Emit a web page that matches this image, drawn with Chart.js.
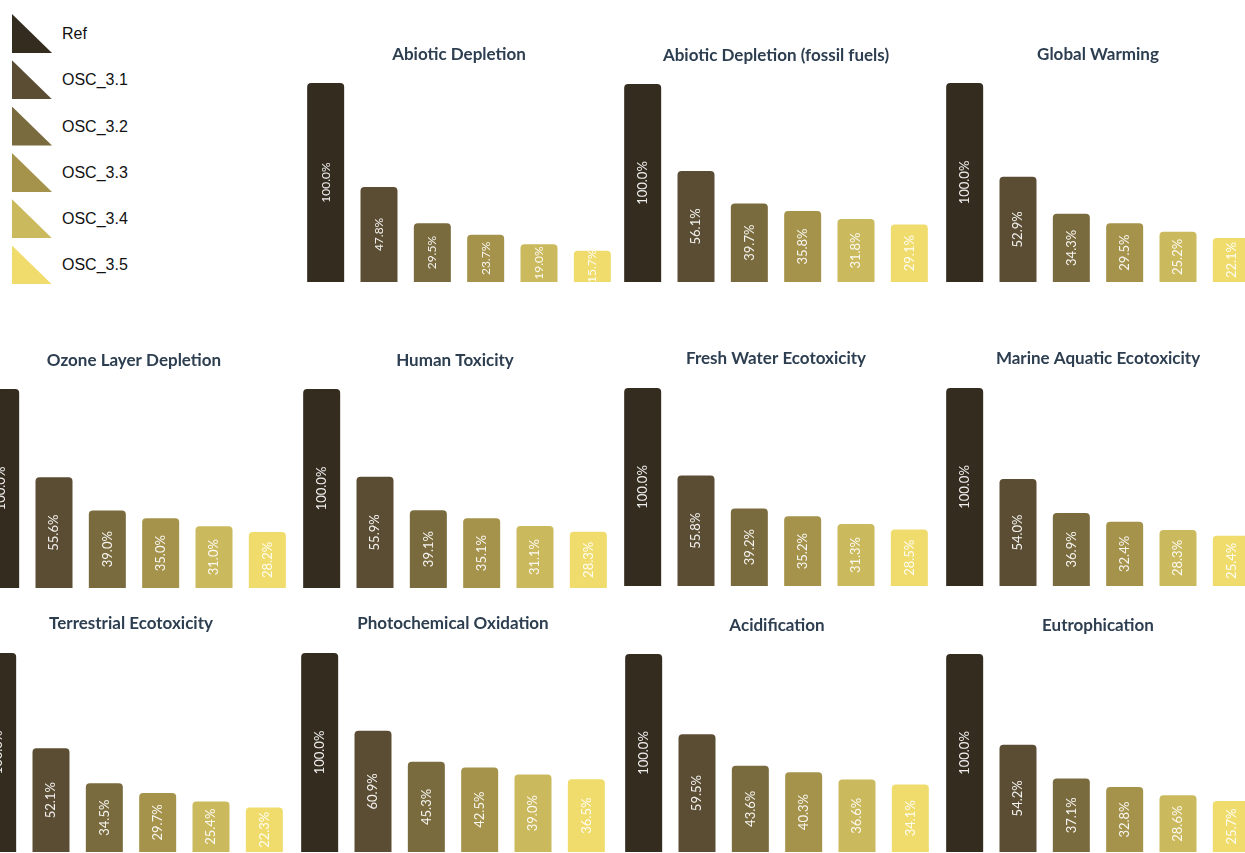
<!DOCTYPE html>
<html>
<head>
<meta charset="utf-8">
<script src="https://cdn.jsdelivr.net/npm/chart.js@4/dist/chart.umd.min.js"></script>
<style>
  html, body { margin:0; padding:0; background:#fff; }
  body { width:1245px; height:853px; position:relative; overflow:hidden; }
  canvas.panel { position:absolute; }
  #legend { position:absolute; left:12px; top:14px; font-family:"Liberation Sans", Arial, sans-serif; font-size:16px; color:#111; }
  .lg-row { position:relative; height:46.3px; }
  .lg-tri { position:absolute; left:0; top:0; width:40px; height:39px; clip-path:polygon(0 0, 0 100%, 100% 100%); }
  .lg-txt { position:absolute; left:50px; top:10px; line-height:20px; }
</style>
</head>
<body>
<div id="legend"></div>
<script>
// ---- data ----
const categories = ['Ref', 'OSC_3.1', 'OSC_3.2', 'OSC_3.3', 'OSC_3.4', 'OSC_3.5'];
const seriesColors = ['#352c20', '#5b4d33', '#7a6b3e', '#a5924b', '#cbb95d', '#f0dc6c'];

const abioticDepletion        = [100.0, 47.8, 29.5, 23.7, 19.0, 15.7];
const abioticDepletionFossil  = [100.0, 56.1, 39.7, 35.8, 31.8, 29.1];
const globalWarming           = [100.0, 52.9, 34.3, 29.5, 25.2, 22.1];
const ozoneLayerDepletion     = [100.0, 55.6, 39.0, 35.0, 31.0, 28.2];
const humanToxicity           = [100.0, 55.9, 39.1, 35.1, 31.1, 28.3];
const freshWaterEcotoxicity   = [100.0, 55.8, 39.2, 35.2, 31.3, 28.5];
const marineAquaticEcotoxicity= [100.0, 54.0, 36.9, 32.4, 28.3, 25.4];
const terrestrialEcotoxicity  = [100.0, 52.1, 34.5, 29.7, 25.4, 22.3];
const photochemicalOxidation  = [100.0, 60.9, 45.3, 42.5, 39.0, 36.5];
const acidification           = [100.0, 59.5, 43.6, 40.3, 36.6, 34.1];
const eutrophication          = [100.0, 54.2, 37.1, 32.8, 28.6, 25.7];

// ---- layout (positions only) ----
const panels = [
  { title:'Abiotic Depletion',              data:abioticDepletion,         left:298.9, titleY:55,  top:83,  bottom:282, label:12 },
  { title:'Abiotic Depletion (fossil fuels)', data:abioticDepletionFossil, left:615.9, titleY:56,  top:84,  bottom:282, label:13 },
  { title:'Global Warming',                 data:globalWarming,            left:937.9, titleY:55,  top:83,  bottom:282, label:13 },
  { title:'Ozone Layer Depletion',          data:ozoneLayerDepletion,      left:-26.5, titleY:361, top:389, bottom:588, label:13 },
  { title:'Human Toxicity',                 data:humanToxicity,            left:294.9, titleY:361, top:389, bottom:588, label:13 },
  { title:'Fresh Water Ecotoxicity',        data:freshWaterEcotoxicity,    left:615.9, titleY:359, top:388, bottom:586, label:13 },
  { title:'Marine Aquatic Ecotoxicity',     data:marineAquaticEcotoxicity, left:937.9, titleY:359, top:388, bottom:586, label:13 },
  { title:'Terrestrial Ecotoxicity',        data:terrestrialEcotoxicity,   left:-29.4, titleY:624, top:653, bottom:852, label:13 },
  { title:'Photochemical Oxidation',        data:photochemicalOxidation,   left:292.9, titleY:624, top:653, bottom:852, label:13 },
  { title:'Acidification',                  data:acidification,            left:616.9, titleY:626, top:654, bottom:852, label:13 },
  { title:'Eutrophication',                 data:eutrophication,           left:937.9, titleY:626, top:654, bottom:852, label:13 }
];

// ---- legend ----
const legendEl = document.getElementById('legend');
categories.forEach((c, i) => {
  const row = document.createElement('div'); row.className = 'lg-row';
  const tri = document.createElement('div'); tri.className = 'lg-tri'; tri.style.background = seriesColors[i];
  const txt = document.createElement('div'); txt.className = 'lg-txt'; txt.textContent = c;
  row.appendChild(tri); row.appendChild(txt); legendEl.appendChild(row);
});

// ---- in-bar rotated labels ----
const barLabels = {
  id: 'barLabels',
  afterDatasetsDraw(chart, args, opts) {
    const ctx = chart.ctx;
    const meta = chart.getDatasetMeta(0);
    const vals = chart.data.datasets[0].data;
    ctx.save();
    ctx.fillStyle = 'rgba(255,255,255,0.92)';
    ctx.font = (opts.size || 13) + 'px Lato, "Open Sans", sans-serif';
    ctx.textAlign = 'center';
    ctx.textBaseline = 'middle';
    meta.data.forEach((bar, i) => {
      const p = bar.getProps(['x', 'y', 'base'], true);
      const cy = (p.y + p.base) / 2;
      ctx.save();
      ctx.translate(p.x, cy);
      ctx.rotate(-Math.PI / 2);
      ctx.fillText(vals[i].toFixed(1) + '%', 0, 0);
      ctx.restore();
    });
    ctx.restore();
  }
};

const TITLE_SIZE = 17;
const TITLE_LH = 20;
const CANVAS_W = 320;

panels.forEach(p => {
  const cv = document.createElement('canvas');
  cv.className = 'panel';
  const canvasTop = p.titleY - TITLE_LH / 2;
  const h = p.bottom - canvasTop;
  cv.width = CANVAS_W; cv.height = h;
  cv.style.width = CANVAS_W + 'px'; cv.style.height = h + 'px';
  cv.style.left = p.left + 'px'; cv.style.top = canvasTop + 'px';
  document.body.appendChild(cv);
  new Chart(cv.getContext('2d'), {
    type: 'bar',
    data: {
      labels: categories,
      datasets: [{
        data: p.data,
        backgroundColor: seriesColors,
        borderWidth: 0,
        borderRadius: { topLeft: 4, topRight: 4, bottomLeft: 0, bottomRight: 0 },
        borderSkipped: false,
        categoryPercentage: 1.0,
        barPercentage: 37 / 53.33
      }]
    },
    options: {
      responsive: false,
      animation: false,
      devicePixelRatio: 1,
      layout: { padding: 0 },
      scales: {
        x: { display: false },
        y: { display: false, min: 0, max: 100 }
      },
      plugins: {
        legend: { display: false },
        tooltip: { enabled: false },
        barLabels: { size: p.label },
        title: {
          display: true,
          text: p.title,
          color: '#2c3e50',
          font: { family: 'Lato', size: TITLE_SIZE, weight: 'bold', lineHeight: TITLE_LH / TITLE_SIZE },
          padding: { top: 0, bottom: (p.top - canvasTop) - TITLE_LH }
        }
      }
    },
    plugins: [barLabels]
  });
});
</script>
</body>
</html>
